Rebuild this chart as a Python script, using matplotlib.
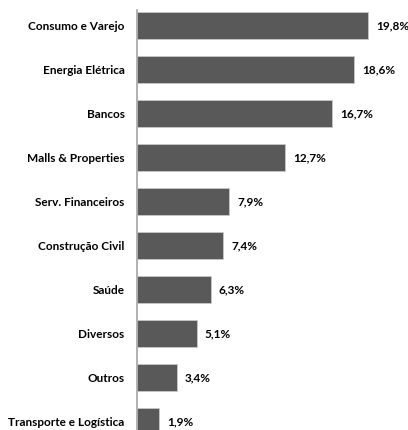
import matplotlib.pyplot as plt

categories = [
    "Consumo e Varejo",
    "Energia Elétrica",
    "Bancos",
    "Malls & Properties",
    "Serv. Financeiros",
    "Construção Civil",
    "Saúde",
    "Diversos",
    "Outros",
    "Transporte e Logística",
]
values = [19.8, 18.6, 16.7, 12.7, 7.9, 7.4, 6.3, 5.1, 3.4, 1.9]
value_labels = ["19,8%", "18,6%", "16,7%", "12,7%", "7,9%", "7,4%", "6,3%", "5,1%", "3,4%", "1,9%"]

plt.rcParams["font.family"] = ["Lato", "DejaVu Sans"]
plt.rcParams["font.weight"] = "bold"

W, H = 408, 430
fig = plt.figure(figsize=(W / 100, H / 100), dpi=100)
left, top, bottom = 137, 10, 430
ax = fig.add_axes([left / W, 1 - bottom / H, (W - left) / W, (bottom - top) / H])

pos = list(range(len(categories)))
ax.barh(pos, values, height=0.614, color="#595959", edgecolor="#c8c8c8", linewidth=0.6)

for p, v, lab in zip(pos, values, value_labels):
    ax.text(v + 0.68, p, lab, va="center", ha="left", fontsize=8.5, fontweight="bold", color="black")

ax.set_xlim(0, (W - left) / 11.67)
ax.set_ylim((bottom - 25.5) / 44, -(25.5 - top) / 44)
ax.set_yticks(pos)
ax.set_yticklabels(categories, fontsize=8.5, fontweight="bold")
ax.tick_params(axis="y", length=0, pad=9)
ax.set_xticks([])
for s in ["top", "right", "bottom"]:
    ax.spines[s].set_visible(False)
ax.spines["left"].set_color("#a6a6a6")
ax.spines["left"].set_linewidth(1.2)
ax.patch.set_alpha(0)

fig.savefig("out.png", dpi=100)
